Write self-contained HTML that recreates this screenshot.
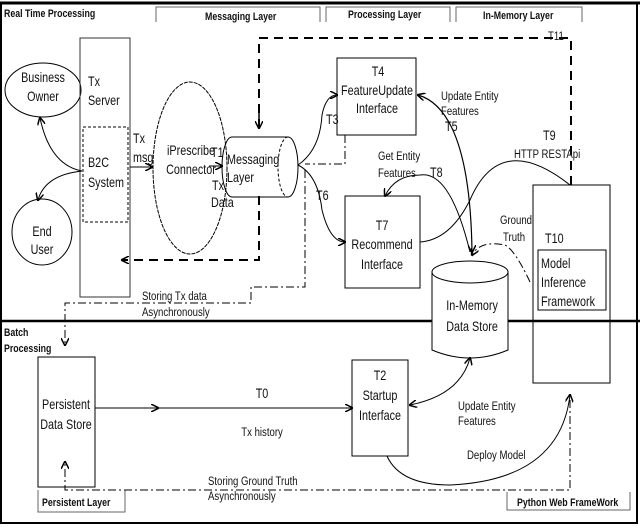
<!DOCTYPE html>
<html><head><style>
body{margin:0;background:#fff}
svg{display:block}
text{font-family:"Liberation Sans",sans-serif;font-size:13.5px;fill:#111;transform-box:fill-box;transform-origin:0% 50%;transform:scaleX(0.8)}
.m text{transform-origin:50% 50%}
.b{font-weight:bold;font-size:11px}
.s{font-size:12px}
</style></head><body>
<svg width="640" height="527" viewBox="0 0 640 527" xmlns="http://www.w3.org/2000/svg">
<defs>
<marker id="a" markerWidth="8" markerHeight="8" refX="7" refY="4" orient="auto-start-reverse" markerUnits="userSpaceOnUse"><path d="M0,0 L8,4 L0,8" fill="none" stroke="#000" stroke-width="1.5"/></marker>
</defs>
<g fill="none" stroke="#000">
<rect x="1" y="3" width="636" height="520" stroke-width="2"/>
<line x1="0" y1="3" x2="640" y2="3" stroke-width="3"/>
<line x1="0" y1="321" x2="640" y2="321" stroke-width="2.5"/>
<path d="M156,22 V7 H320 V22 M326,22 V7 H450 V22 M456,22 V7 H582 V22" stroke="#666"/>
<path d="M38,490 V512 H125 V490 M507,492 V510 H630 V492" stroke="#666"/>
<ellipse cx="43" cy="90" rx="38" ry="27"/>
<ellipse cx="42" cy="232" rx="30" ry="33"/>
<rect x="80" y="38" width="50" height="259" stroke="#333"/>
<rect x="83" y="127" width="45" height="95" stroke-dasharray="3,2"/>
<path d="M40,118 Q50,165 82,171" marker-start="url(#a)"/>
<path d="M82,171 Q45,175 38,200" marker-end="url(#a)"/>
<line x1="130" y1="167" x2="152" y2="167" marker-end="url(#a)"/>
<ellipse cx="190" cy="168" rx="37" ry="86" stroke-dasharray="4,1"/>
<line x1="209" y1="166" x2="222" y2="166" marker-end="url(#a)"/>
<path d="M232,137 H288 A10,30 0 0 1 288,197 H232 A10,30 0 0 1 232,137 Z"/>
<path d="M288,137 A10,30 0 0 0 288,197" stroke-dasharray="3,2"/>
<path d="M259,128 V38 H571 V186" stroke-width="2" stroke-dasharray="9,6"/>
<line x1="259" y1="112" x2="259" y2="128" stroke-width="1.5" marker-end="url(#a)"/>
<path d="M259,196 V260 H122" stroke-width="2" stroke-dasharray="9,6" marker-end="url(#a)"/>
<path d="M345,135 V164 H305 M305,170 V287 H251 V303 H65 V345" stroke-dasharray="8,3,2,3" marker-end="url(#a)"/>
<path d="M570,400 V490 H65 V462" stroke-dasharray="8,3,2,3" marker-end="url(#a)"/>
<rect x="337" y="58" width="79" height="77"/>
<path d="M298,165 Q320,150 322,115 Q326,95 337,95" marker-end="url(#a)"/>
<path d="M298,165 Q318,175 322,210 Q330,242 345,242" marker-end="url(#a)"/>
<rect x="345" y="196" width="75" height="92"/>
<path d="M418,95 Q470,110 472,252" marker-start="url(#a)" marker-end="url(#a)" stroke-width="1.2"/>
<path d="M470,252 Q450,170 420,175 Q395,175 385,196" marker-end="url(#a)"/>
<path d="M420,242 Q450,240 470,200 Q500,130 570,185"/>
<rect x="533" y="185" width="77" height="198"/>
<rect x="538" y="250" width="68" height="60"/>
<path d="M530,282 Q515,250 505,245 Q480,240 472,255" stroke-dasharray="8,3,2,3" marker-end="url(#a)"/>
<path d="M432,272 V350 Q470,366 508,350 V272" fill="#fff"/>
<ellipse cx="470" cy="272" rx="38" ry="11" fill="#fff"/>
<rect x="352" y="360" width="56" height="96"/>
<rect x="38" y="357" width="57" height="130"/>
<line x1="95" y1="408" x2="352" y2="408" marker-end="url(#a)"/>
<path d="M150,408 L158,408" marker-end="url(#a)"/>
<path d="M410,405 Q460,395 470,358" marker-start="url(#a)" marker-end="url(#a)"/>
<path d="M387,456 Q400,485 450,485 Q560,480 570,395" marker-end="url(#a)"/>
</g>
<text class="b" x="4" y="17">Real Time Processing</text>
<text class="b" x="205" y="20">Messaging Layer</text>
<text class="b" x="348" y="18">Processing Layer</text>
<text class="b" x="483" y="19">In-Memory Layer</text>
<text class="b" x="4" y="336">Batch</text>
<text class="b" x="4" y="352">Processing</text>
<text class="b" x="42" y="506">Persistent Layer</text>
<text class="b" x="517" y="506">Python Web FrameWork</text>
<g text-anchor="middle" class="m">
<text x="43" y="82">Business</text><text x="43" y="101">Owner</text>
<text x="42" y="236">End</text><text x="42" y="254">User</text>
<text x="191" y="155">iPrescribe</text><text x="191" y="174">Connector</text>
<text x="378" y="76">T4</text><text x="377" y="95">FeatureUpdate</text><text x="377" y="113">Interface</text>
<text x="382" y="230">T7</text><text x="382" y="249">Recommend</text><text x="382" y="269">Interface</text>
<text x="472" y="310">In-Memory</text><text x="472" y="331">Data Store</text>
<text x="380" y="380">T2</text><text x="380" y="400">Startup</text><text x="380" y="420">Interface</text>
<text x="66" y="409">Persistent</text><text x="66" y="429">Data Store</text>
<text x="262" y="398">T0</text><text x="262" y="436" class="s">Tx history</text>
</g>
<text x="88" y="86">Tx</text><text x="88" y="105">Server</text>
<text x="88" y="167">B2C</text><text x="88" y="187">System</text>
<text x="133" y="143">Tx</text><text x="133" y="162">msg</text>
<text x="211" y="157">T1</text><text x="212" y="190">Tx</text><text x="211" y="207">Data</text>
<text x="227" y="164">Messaging</text><text x="227" y="182">Layer</text>
<text x="326" y="124">T3</text><text x="316" y="200">T6</text>
<text x="441" y="100" class="s">Update Entity</text><text x="441" y="115" class="s">Features</text><text x="445" y="131">T5</text>
<text x="378" y="160" class="s">Get Entity</text><text x="378" y="177" class="s">Features</text><text x="430" y="177">T8</text>
<text x="543" y="140">T9</text><text x="514" y="158" class="s">HTTP RESTApi</text>
<text x="548" y="40" class="s">T11</text>
<text x="500" y="224" class="s">Ground</text><text x="503" y="241" class="s">Truth</text>
<text x="545" y="243">T10</text>
<text x="541" y="268">Model</text><text x="541" y="287">Inference</text><text x="541" y="306">Framework</text>
<text x="142" y="300" class="s">Storing Tx data</text><text x="142" y="316" class="s">Asynchronously</text>
<text x="458" y="410" class="s">Update Entity</text><text x="458" y="425" class="s">Features</text>
<text x="467" y="459" class="s">Deploy Model</text>
<text x="208" y="485" class="s">Storing Ground Truth</text><text x="208" y="500" class="s">Asynchronously</text>
</svg>
</body></html>
